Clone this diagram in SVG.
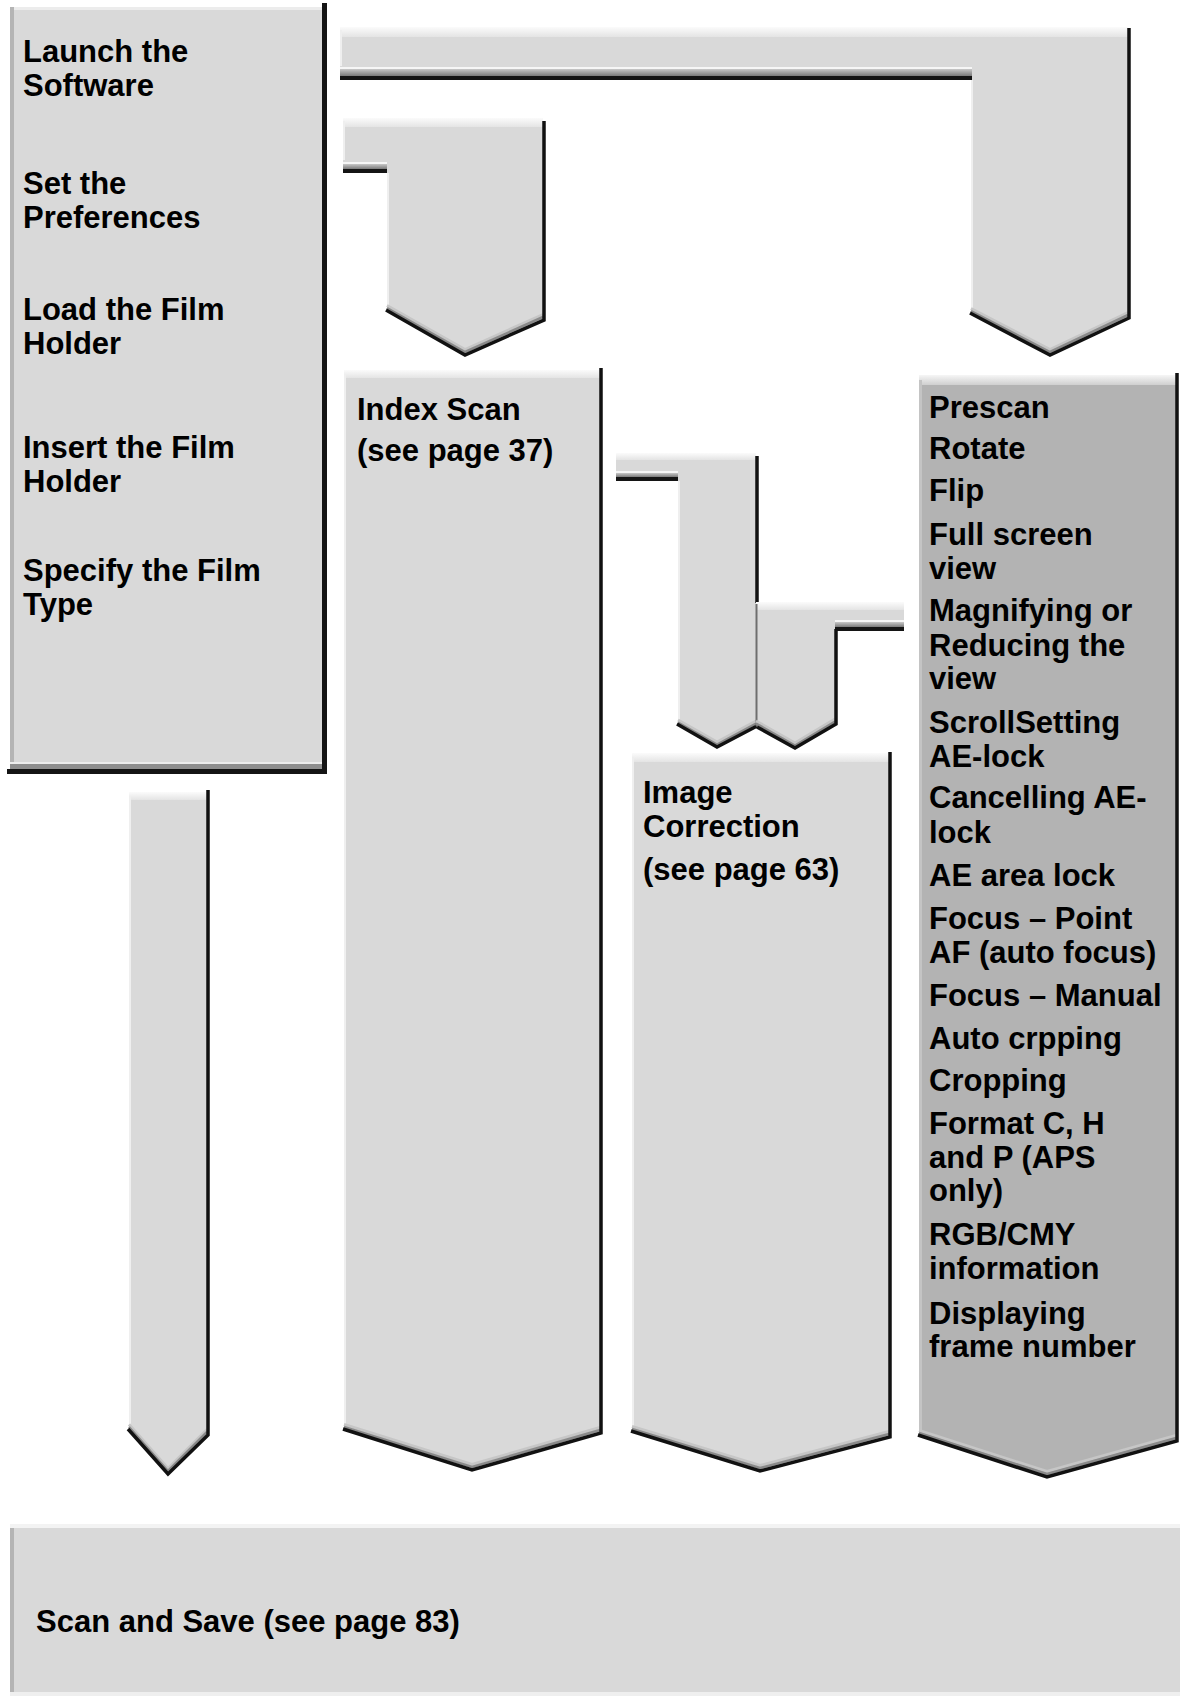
<svg xmlns="http://www.w3.org/2000/svg" width="1180" height="1696" viewBox="0 0 1180 1696">
<defs>
<linearGradient id="topg" x1="0" y1="0" x2="0" y2="1">
<stop offset="0" stop-color="#fbfbfb"/>
<stop offset="1" stop-color="#e4e4e4"/>
</linearGradient>
<linearGradient id="topg2" x1="0" y1="0" x2="0" y2="1">
<stop offset="0" stop-color="#f6f6f6"/>
<stop offset="1" stop-color="#cfcfcf"/>
</linearGradient>
<linearGradient id="botg" x1="0" y1="0" x2="0" y2="1">
<stop offset="0" stop-color="#c8c8c8"/>
<stop offset="1" stop-color="#7a7a7a"/>
</linearGradient>
</defs>
<style>
.body{fill:#d9d9d9}
.body2{fill:#b3b3b3}
.hl{fill:url(#topg)}
.hl2{fill:url(#topg2)}
.dk{fill:none;stroke:#111;stroke-width:3.5;stroke-linejoin:miter}
.bv1{fill:none;stroke:#8a8a8a;stroke-width:2.5}
.bv2{fill:none;stroke:#c6c6c6;stroke-width:3}
.le{fill:none;stroke:#efefef;stroke-width:2}
.le2{fill:none;stroke:#c4c4c4;stroke-width:3}
.wl{fill:#f6f6f6}
.gb{fill:url(#botg)}
.bk{fill:#141414}
.t{font-family:"Liberation Sans",Arial,Helvetica,sans-serif;font-weight:bold;font-size:31px;fill:#000}
</style>
<rect x="0" y="0" width="1180" height="1696" fill="#ffffff"/>

<g id="connectors">
  <g id="arrow-launch-prescan">
    <polygon class="body" points="340,28 1128,28 1128,318 1050,355 971,314 971,80 340,80"/>
    <rect class="hl" x="340" y="27" width="788" height="10"/>
    <rect class="wl" x="340" y="67" width="632" height="2"/>
    <rect class="gb" x="340" y="69" width="632" height="7"/>
    <rect class="bk" x="340" y="76" width="632" height="4"/>
    <line class="le" x1="341" y1="30" x2="341" y2="66"/>
    <line class="le" x1="972" y1="80" x2="972" y2="312"/>
    <polyline class="bv2" points="971,314 1050,355 1128,318" transform="translate(0,-5.5)"/>
    <polyline class="bv1" points="971,314 1050,355 1128,318" transform="translate(0,-3)"/>
    <polyline class="dk" points="1129,28 1129,318 1050,355 970,313"/>
  </g>
  <g id="arrow-prefs-index">
    <polygon class="body" points="343,119 543,119 543,320 465,355 387,311 387,173 343,173"/>
    <rect class="hl" x="343" y="118" width="200" height="9"/>
    <rect class="wl" x="343" y="162" width="44" height="2"/>
    <rect class="gb" x="343" y="164" width="44" height="5"/>
    <rect class="bk" x="343" y="169" width="44" height="4"/>
    <line class="le" x1="344" y1="121" x2="344" y2="160"/>
    <line class="le" x1="388" y1="173" x2="388" y2="309"/>
    <polyline class="bv2" points="387,311 465,355 543,320" transform="translate(0,-5.5)"/>
    <polyline class="bv1" points="387,311 465,355 543,320" transform="translate(0,-3)"/>
    <polyline class="dk" points="544,121 544,320 465,355 386,310"/>
  </g>
  <g id="arrow-index-correction">
    <polygon class="body" points="616,454 756,454 756,726 717,747 678,725 678,481 616,481"/>
    <rect class="hl" x="616" y="453" width="140" height="7"/>
    <rect class="wl" x="616" y="471" width="62" height="2"/>
    <rect class="gb" x="616" y="473" width="62" height="4"/>
    <rect class="bk" x="616" y="477" width="62" height="4"/>
    <line class="le" x1="679" y1="481" x2="679" y2="722"/>
    <polyline class="bv2" points="678,725 717,747 756,726" transform="translate(0,-5)"/>
    <polyline class="bv1" points="678,725 717,747 756,726" transform="translate(0,-2.5)"/>
    <polyline class="dk" points="757,456 757,603"/>
    <polyline class="dk" points="757,726 717,747 677,724"/>
  </g>
  <g id="arrow-prescan-correction">
    <polygon class="body" points="756,603 904,603 904,631 835,631 835,724 795,748 756,726"/>
    <rect class="hl" x="756" y="602" width="148" height="8"/>
    <rect class="wl" x="835" y="620" width="69" height="2"/>
    <rect class="gb" x="835" y="622" width="69" height="5"/>
    <rect class="bk" x="835" y="627" width="69" height="4"/>
    <line x1="756.5" y1="604" x2="756.5" y2="726" stroke="#6e6e6e" stroke-width="2"/>
    <polyline class="bv2" points="756,726 795,748 835,724" transform="translate(0,-5)"/>
    <polyline class="bv1" points="756,726 795,748 835,724" transform="translate(0,-2.5)"/>
    <polyline class="dk" points="836,629 836,724 795,748 757,727"/>
  </g>
  <g id="arrow-steps-scan">
    <polygon class="body" points="129,793 207,793 207,1435 168,1474 129,1430"/>
    <rect class="hl" x="129" y="792" width="78" height="8"/>
    <line class="le" x1="130" y1="796" x2="130" y2="1428"/>
    <polyline class="bv2" points="129,1430 168,1474 207,1435" transform="translate(0,-5.5)"/>
    <polyline class="bv1" points="129,1430 168,1474 207,1435" transform="translate(0,-3)"/>
    <polyline class="dk" points="208,790 208,1435 168,1474 128,1429"/>
  </g>
</g>

<g id="node-steps">
  <rect class="body" x="10" y="7" width="313" height="762"/>
  <rect x="10" y="7" width="313" height="3" fill="#ececec"/>
  <rect x="10" y="7" width="4" height="762" fill="#b4b4b4"/>
  <rect x="10" y="762" width="313" height="2" fill="#ededed"/>
  <rect x="10" y="764" width="313" height="5" fill="#8e8e8e"/>
  <rect class="bk" x="7" y="769" width="320" height="5"/>
  <rect class="bk" x="322" y="3" width="5" height="771"/>
  <text class="t" x="23" y="62">Launch the</text>
  <text class="t" x="23" y="96">Software</text>
  <text class="t" x="23" y="194">Set the</text>
  <text class="t" x="23" y="228">Preferences</text>
  <text class="t" x="23" y="320">Load the Film</text>
  <text class="t" x="23" y="354">Holder</text>
  <text class="t" x="23" y="458">Insert the Film</text>
  <text class="t" x="23" y="492">Holder</text>
  <text class="t" x="23" y="581">Specify the Film</text>
  <text class="t" x="23" y="615">Type</text>
</g>

<g id="node-index-scan">
  <polygon class="body" points="344,371 600,371 600,1433 472,1470 344,1430"/>
  <rect class="hl" x="344" y="370" width="256" height="8"/>
  <line class="le" x1="345" y1="374" x2="345" y2="1428"/>
  <polyline class="bv2" points="344,1430 472,1470 600,1433" transform="translate(0,-5.5)"/>
  <polyline class="bv1" points="344,1430 472,1470 600,1433" transform="translate(0,-3)"/>
  <polyline class="dk" points="601,368 601,1433 472,1470 343,1429"/>
  <text class="t" x="357" y="420">Index Scan</text>
  <text class="t" x="357" y="461">(see page 37)</text>
</g>

<g id="node-image-correction">
  <polygon class="body" points="632,755 889,755 889,1437 760,1471 632,1432"/>
  <rect class="hl" x="632" y="753" width="257" height="9"/>
  <line class="le" x1="633" y1="757" x2="633" y2="1430"/>
  <polyline class="bv2" points="632,1432 760,1471 889,1437" transform="translate(0,-5.5)"/>
  <polyline class="bv1" points="632,1432 760,1471 889,1437" transform="translate(0,-3)"/>
  <polyline class="dk" points="890,752 890,1437 760,1471 631,1431"/>
  <text class="t" x="643" y="803">Image</text>
  <text class="t" x="643" y="837">Correction</text>
  <text class="t" x="643" y="880">(see page 63)</text>
</g>

<g id="node-prescan">
  <polygon class="body2" points="919,377 1176,377 1176,1441 1047,1477 919,1436"/>
  <rect class="hl2" x="919" y="375" width="257" height="10"/>
  <line class="le2" x1="920.5" y1="380" x2="920.5" y2="1433"/>
  <polyline class="bv2" points="919,1436 1047,1477 1176,1441" transform="translate(0,-5.5)"/>
  <polyline class="bv1" points="919,1436 1047,1477 1176,1441" transform="translate(0,-3)"/>
  <polyline class="dk" points="1177,373 1177,1441 1047,1477 918,1435"/>
  <text class="t" x="929" y="418">Prescan</text>
  <text class="t" x="929" y="459">Rotate</text>
  <text class="t" x="929" y="501">Flip</text>
  <text class="t" x="929" y="545">Full screen</text>
  <text class="t" x="929" y="579">view</text>
  <text class="t" x="929" y="621">Magnifying or</text>
  <text class="t" x="929" y="656">Reducing the</text>
  <text class="t" x="929" y="689">view</text>
  <text class="t" x="929" y="733">ScrollSetting</text>
  <text class="t" x="929" y="767">AE-lock</text>
  <text class="t" x="929" y="808">Cancelling AE-</text>
  <text class="t" x="929" y="843">lock</text>
  <text class="t" x="929" y="886">AE area lock</text>
  <text class="t" x="929" y="929">Focus – Point</text>
  <text class="t" x="929" y="963">AF (auto focus)</text>
  <text class="t" x="929" y="1006">Focus – Manual</text>
  <text class="t" x="929" y="1049">Auto crpping</text>
  <text class="t" x="929" y="1091">Cropping</text>
  <text class="t" x="929" y="1134">Format C, H</text>
  <text class="t" x="929" y="1168">and P (APS</text>
  <text class="t" x="929" y="1201">only)</text>
  <text class="t" x="929" y="1245">RGB/CMY</text>
  <text class="t" x="929" y="1279">information</text>
  <text class="t" x="929" y="1324">Displaying</text>
  <text class="t" x="929" y="1357">frame number</text>
</g>

<g id="node-scan-save">
  <rect class="body" x="10" y="1527" width="1170" height="167"/>
  <rect x="10" y="1524" width="1170" height="4" fill="#f3f3f3"/>
  <rect x="10" y="1692" width="1170" height="4" fill="#efefef"/>
  <rect x="10" y="1528" width="4" height="164" fill="#b4b4b4"/>
  <text class="t" x="36" y="1632">Scan and Save (see page 83)</text>
</g>
</svg>
